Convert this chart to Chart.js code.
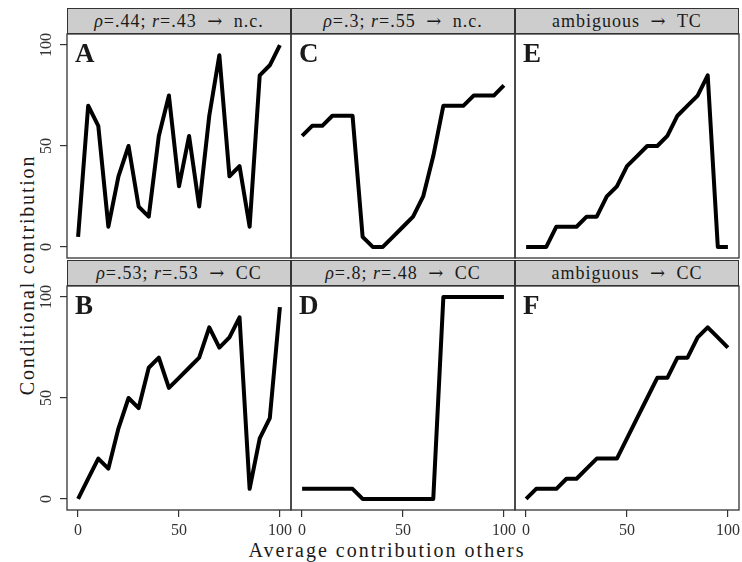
<!DOCTYPE html>
<html>
<head>
<meta charset="utf-8">
<script src="https://cdn.jsdelivr.net/npm/chart.js@4.4.1/dist/chart.umd.min.js"></script>
<style>
  html, body { margin: 0; padding: 0; background: #fff; }
  #fig { position: relative; width: 742px; height: 562px; overflow: hidden; font-family: "Liberation Serif", serif; color: #1a1a1a; }
  #fig canvas { position: absolute; left: 0; top: 0; }
  .strip { position: absolute; height: 26px; background: #cdcdcd; border: 1.3px solid #333; box-sizing: border-box; text-align: center; font-size: 18px; line-height: 23px; letter-spacing: 1px; white-space: nowrap; }
  .strip .arr { font-family: "DejaVu Serif", serif; margin: 0 5px; }
  .tag { position: absolute; font-weight: bold; font-size: 27px; line-height: 27px; }
  .ytitle { position: absolute; left: 27px; top: 275px; transform: translate(-50%, -50%) rotate(-90deg); font-size: 20px; white-space: nowrap; letter-spacing: 1.8px; }
  .xtitle { position: absolute; left: 387px; top: 540px; transform: translateX(-50%); font-size: 20px; line-height: 20px; white-space: nowrap; letter-spacing: 2px; }
</style>
</head>
<body>
<div id="fig">
  <div class="ytitle">Conditional contribution</div>
  <div class="xtitle">Average contribution others</div>
</div>
<script>
// x positions shared by all panels
const xValues = [0, 5, 10, 15, 20, 25, 30, 35, 40, 45, 50, 55, 60, 65, 70, 75, 80, 85, 90, 95, 100];
const tickValues = [0, 50, 100];

// panels in column order: A B (left), C D (middle), E F (right)
const panelTags = ['A', 'B', 'C', 'D', 'E', 'F'];
const stripLabels = [
  '<i>ρ</i>=.44; <i>r</i>=.43 <span class="arr">→</span> n.c.',
  '<i>ρ</i>=.53; <i>r</i>=.53 <span class="arr">→</span> CC',
  '<i>ρ</i>=.3; <i>r</i>=.55 <span class="arr">→</span> n.c.',
  '<i>ρ</i>=.8; <i>r</i>=.48 <span class="arr">→</span> CC',
  'ambiguous <span class="arr">→</span> TC',
  'ambiguous <span class="arr">→</span> CC'
];

const seriesA = [5, 70, 60, 10, 35, 50, 20, 15, 55, 75, 30, 55, 20, 65, 95, 35, 40, 10, 85, 90, 100];
const seriesB = [0, 10, 20, 15, 35, 50, 45, 65, 70, 55, 60, 65, 70, 85, 75, 80, 90, 5, 30, 40, 95];
const seriesC = [55, 60, 60, 65, 65, 65, 5, 0, 0, 5, 10, 15, 25, 45, 70, 70, 70, 75, 75, 75, 80];
const seriesD = [5, 5, 5, 5, 5, 5, 0, 0, 0, 0, 0, 0, 0, 0, 100, 100, 100, 100, 100, 100, 100];
const seriesE = [0, 0, 0, 10, 10, 10, 15, 15, 25, 30, 40, 45, 50, 50, 55, 65, 70, 75, 85, 0, 0];
const seriesF = [0, 5, 5, 5, 10, 10, 15, 20, 20, 20, 30, 40, 50, 60, 60, 70, 70, 80, 85, 80, 75];
const allSeries = [seriesA, seriesB, seriesC, seriesD, seriesE, seriesF];

// figure layout
const FIG_W = 742, FIG_H = 562;
const colLeft = [67, 291, 515];
const plotTop = [34, 286];
const stripTop = [8, 260];
const PW = 224, PH = 224;
const AXIS_W = 30, AXIS_H = 30;

const frame = {
  id: 'frame',
  afterDatasetsDraw(chart) {
    const { ctx, chartArea: a } = chart;
    ctx.save();
    ctx.strokeStyle = '#333';
    ctx.lineWidth = 1.3;
    ctx.strokeRect(a.left, a.top, a.right - a.left, a.bottom - a.top);
    ctx.restore();
  }
};

const tickFont = { family: 'Liberation Serif', size: 16 };
const fixTicks = s => { s.ticks = tickValues.map(v => ({ value: v })); };

function makePanel(i) {
  const fig = document.getElementById('fig');
  const col = Math.floor(i / 2), row = i % 2;
  const left = colLeft[col], top = plotTop[row];
  const hasY = col === 0, hasX = row === 1;

  const strip = document.createElement('div');
  strip.className = 'strip';
  strip.style.left = left + 'px';
  strip.style.top = stripTop[row] + 'px';
  strip.style.width = PW + 'px';
  strip.innerHTML = stripLabels[i];
  fig.appendChild(strip);

  const canvas = document.createElement('canvas');
  canvas.width = FIG_W;
  canvas.height = FIG_H;
  fig.appendChild(canvas);

  const tag = document.createElement('div');
  tag.className = 'tag';
  tag.style.left = (left + 8) + 'px';
  tag.style.top = (top + 6) + 'px';
  tag.textContent = panelTags[i];
  fig.appendChild(tag);

  new Chart(canvas, {
    type: 'line',
    data: {
      datasets: [{
        data: xValues.map((x, k) => ({ x, y: allSeries[i][k] })),
        borderColor: '#000',
        borderWidth: 4,
        borderJoinStyle: 'round',
        pointRadius: 0,
        tension: 0,
        fill: false
      }]
    },
    options: {
      responsive: false,
      animation: false,
      events: [],
      layout: {
        padding: {
          left: left - (hasY ? AXIS_W : 0),
          top: top,
          right: FIG_W - left - PW,
          bottom: FIG_H - top - PH - (hasX ? AXIS_H : 0)
        }
      },
      plugins: { legend: { display: false }, tooltip: { enabled: false } },
      scales: {
        x: {
          type: 'linear', min: -5.5, max: 105.5, display: hasX,
          afterBuildTicks: fixTicks,
          afterFit: s => { if (hasX) s.height = AXIS_H; s.paddingLeft = 0; s.paddingRight = 0; },
          grid: { drawOnChartArea: false, drawTicks: true, tickLength: 7, color: '#333', lineWidth: 1.2 },
          border: { display: false },
          ticks: { font: tickFont, color: '#333', padding: 4, maxRotation: 0 }
        },
        y: {
          type: 'linear', min: -5.5, max: 105.5, display: hasY,
          afterBuildTicks: fixTicks,
          afterFit: s => { if (hasY) s.width = AXIS_W; s.paddingTop = 0; s.paddingBottom = 0; },
          grid: { drawOnChartArea: false, drawTicks: true, tickLength: 7, color: '#333', lineWidth: 1.2 },
          border: { display: false },
          ticks: { font: tickFont, color: '#333', padding: 1, minRotation: 90, maxRotation: 90, crossAlign: 'center' }
        }
      }
    },
    plugins: [frame]
  });
}

for (let i = 0; i < allSeries.length; i++) makePanel(i);
</script>
</body>
</html>
